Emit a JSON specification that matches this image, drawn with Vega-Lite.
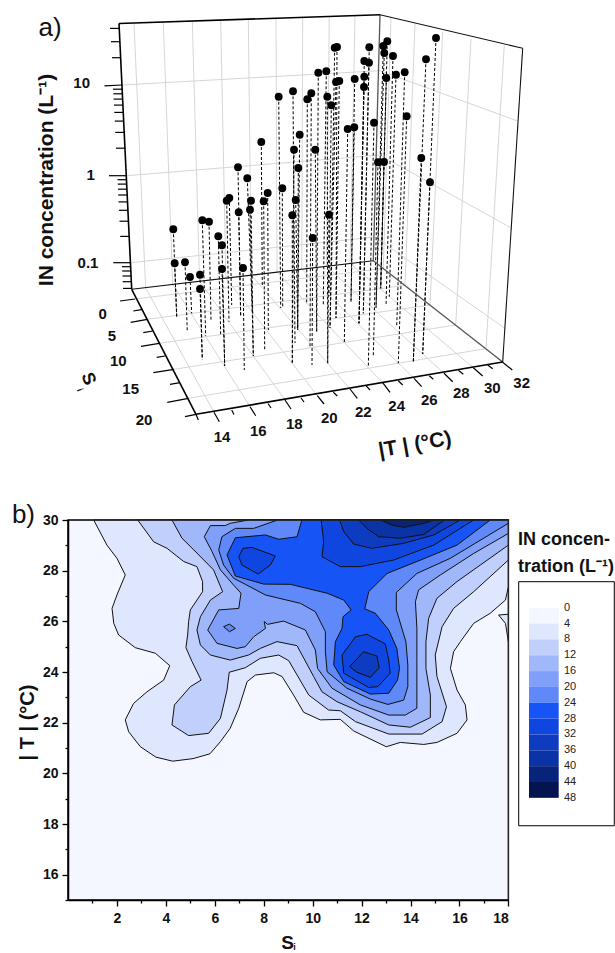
{"$schema":"https://vega.github.io/schema/vega-lite/v6.json","padding":0,"background":"white","bounds":"flush","spacing":0,
"config":{"font":"Liberation Sans","view":{"stroke":null},"concat":{"spacing":0}},
"datasets":{
"grid":[
{"x":134,"y":23,"x2":145.6,"y2":287.7},{"x":163.3,"y":22,"x2":172.7,"y2":284.4},{"x":192.3,"y":21,"x2":199.6,"y2":281.3},{"x":220.7,"y":20,"x2":225.9,"y2":278.1},{"x":248.3,"y":19,"x2":251.3,"y2":275.1},{"x":276,"y":18.2,"x2":277.1,"y2":272.1},{"x":302.7,"y":17.3,"x2":301.8,"y2":269.2},{"x":329.3,"y":16.4,"x2":326.4,"y2":266.2},{"x":355,"y":15.5,"x2":350.1,"y2":263.4},
{"x":121.7,"y":85,"x2":380,"y2":70.7},{"x":126.7,"y":175.7,"x2":380,"y2":155},{"x":130.4,"y":262.7,"x2":375,"y2":237},
{"x":380,"y":70.7,"x2":516.7,"y2":120.7},{"x":380,"y":155,"x2":510,"y2":227.3},{"x":375,"y":237,"x2":504,"y2":327.7},
{"x":391,"y":16.7,"x2":383.3,"y2":268.5},{"x":415,"y":24,"x2":405,"y2":285.4},{"x":442.7,"y":31.7,"x2":430,"y2":305},{"x":471,"y":39,"x2":455.7,"y2":325},{"x":504.3,"y":45,"x2":486,"y2":348.6},
{"x":145.6,"y":287.7,"x2":214,"y2":412.3},{"x":172.7,"y":284.4,"x2":250,"y2":406.7},{"x":199.6,"y":281.3,"x2":285,"y2":400},{"x":225.9,"y":278.1,"x2":317.3,"y2":395.7},{"x":251.3,"y":275.1,"x2":350,"y2":389},{"x":277.1,"y":272.1,"x2":382.7,"y2":382.7},{"x":301.8,"y":269.2,"x2":414,"y2":378.3},{"x":326.4,"y":266.2,"x2":444,"y2":373.3},{"x":350.1,"y":263.4,"x2":473.3,"y2":367.7},
{"x":135,"y":299,"x2":383.3,"y2":268.5},{"x":147.3,"y":319.3,"x2":405,"y2":285.4},{"x":159.3,"y":343.3,"x2":430,"y2":305},{"x":174,"y":369.3,"x2":455.7,"y2":325},{"x":188.3,"y":398.3,"x2":486,"y2":348.6}],
"thick":[
{"x":119,"y":23.5,"x2":131.7,"y2":289.3},{"x":119,"y":23.5,"x2":380,"y2":14.7},{"x":131.7,"y":289.3,"x2":196,"y2":414.3},{"x":196,"y":414.3,"x2":502.7,"y2":362}],
"thin":[
{"x":131.7,"y":289.3,"x2":373.3,"y2":260.7},{"x":380,"y":14.7,"x2":522.7,"y2":48.3},{"x":522.7,"y":48.3,"x2":502.7,"y2":362}],
"gray":[
{"x":380,"y":14.7,"x2":373.3,"y2":260.7},{"x":373.3,"y":260.7,"x2":502.7,"y2":362}],
"ticks":[
{"x":110,"y":28.4,"x2":119.2,"y2":28.4},{"x":111,"y":41.7,"x2":119.9,"y2":41.7},{"x":112,"y":57.7,"x2":120.6,"y2":57.7},{"x":104.5,"y":85.8,"x2":121.9,"y2":85},{"x":113,"y":89.2,"x2":122.1,"y2":89.2},{"x":113.3,"y":93.8,"x2":122.4,"y2":93.8},{"x":113.6,"y":99.1,"x2":122.6,"y2":99.1},{"x":114,"y":105.1,"x2":122.9,"y2":105.1},{"x":114.3,"y":112.4,"x2":123.3,"y2":112.4},{"x":114.8,"y":121.1,"x2":123.7,"y2":121.1},{"x":115.2,"y":132.4,"x2":124.2,"y2":132.4},{"x":116,"y":148.2,"x2":125,"y2":148.2},{"x":109,"y":175.7,"x2":126.3,"y2":175.7},{"x":117.5,"y":179.7,"x2":126.5,"y2":179.7},{"x":117.7,"y":184.1,"x2":126.7,"y2":184.1},{"x":118,"y":189.2,"x2":127,"y2":189.2},{"x":118.2,"y":195,"x2":127.2,"y2":195},{"x":118.5,"y":201.9,"x2":127.5,"y2":201.9},{"x":118.9,"y":210.3,"x2":127.9,"y2":210.3},{"x":119.5,"y":221.2,"x2":128.5,"y2":221.2},{"x":120.2,"y":236.4,"x2":129.2,"y2":236.4},{"x":113.3,"y":262.7,"x2":130.4,"y2":262.7},{"x":122,"y":266.7,"x2":130.6,"y2":266.7},{"x":122.2,"y":271,"x2":130.8,"y2":271},{"x":122.5,"y":276,"x2":131.1,"y2":276},{"x":122.7,"y":281.7,"x2":131.3,"y2":281.7},{"x":123,"y":288.4,"x2":131.7,"y2":288.4},
{"x":120,"y":301,"x2":135,"y2":299},{"x":133.3,"y":311,"x2":142.7,"y2":309.3},{"x":130.7,"y":322.3,"x2":147.3,"y2":319.3},{"x":143.3,"y":332.7,"x2":152.7,"y2":331},{"x":141,"y":346.3,"x2":159.3,"y2":343.3},{"x":156.7,"y":357.3,"x2":165,"y2":356},{"x":153.3,"y":372.7,"x2":174,"y2":369.3},{"x":170,"y":384.3,"x2":180,"y2":382.7},{"x":167.3,"y":402.3,"x2":188.3,"y2":398.3},{"x":185,"y":416.7,"x2":196,"y2":414.3},
{"x":196,"y":414.3,"x2":198.3,"y2":420},{"x":214,"y":412.3,"x2":219.3,"y2":421.7},{"x":231.7,"y":410,"x2":234,"y2":414.5},{"x":250,"y":406.7,"x2":255.7,"y2":415.7},{"x":268,"y":403.5,"x2":271,"y2":408},{"x":285,"y":400,"x2":291,"y2":409},{"x":301,"y":398,"x2":304,"y2":402},{"x":317.3,"y":395.7,"x2":324,"y2":404},{"x":333.3,"y":392.3,"x2":337.3,"y2":396},{"x":350,"y":389,"x2":357.3,"y2":398.3},{"x":366,"y":385.7,"x2":370,"y2":390},{"x":382.7,"y":382.7,"x2":390,"y2":392.3},{"x":398.3,"y":380.7,"x2":402.7,"y2":385},{"x":414,"y":378.3,"x2":421.7,"y2":386.7},{"x":429.3,"y":375.7,"x2":433.3,"y2":379.3},{"x":444,"y":373.3,"x2":452.7,"y2":381.7},{"x":458.3,"y":370.3,"x2":463.3,"y2":374.3},{"x":473.3,"y":367.7,"x2":482.7,"y2":376},{"x":487.7,"y":365,"x2":492.7,"y2":368.7},{"x":502.7,"y":362.3,"x2":512.3,"y2":370}],
"points":[
{"x":173.3,"y":229.3,"bx":176.7,"by":316.7},{"x":174.7,"y":263.3,"bx":176.7,"by":316.7},{"x":185,"y":262.3,"bx":187.3,"by":332.3},{"x":190,"y":277,"bx":191.7,"by":313.3},{"x":200,"y":274.7,"bx":202.3,"by":359.3},{"x":200,"y":289,"bx":202.3,"by":359.3},{"x":202.3,"y":220.3,"bx":205.7,"by":336},{"x":209,"y":221.7,"bx":211,"by":320},{"x":218.3,"y":236.3,"bx":220.7,"by":335},{"x":222,"y":245.3,"bx":224.7,"by":366},{"x":222,"y":269,"bx":224.7,"by":366},{"x":243,"y":268,"bx":244.3,"by":370},{"x":226.7,"y":200.7,"bx":229,"by":321.7},{"x":229.3,"y":198,"bx":231.7,"by":305},{"x":238.7,"y":212.3,"bx":240.7,"by":317},{"x":238,"y":167.3,"bx":240.7,"by":317},{"x":247.3,"y":178.3,"bx":252.3,"by":311},{"x":251,"y":200.7,"bx":253.3,"by":356},{"x":250,"y":209.7,"bx":253.3,"by":356},{"x":263.7,"y":201.3,"bx":264.7,"by":350},{"x":267.7,"y":193,"bx":268.3,"by":330},{"x":261.3,"y":142,"bx":262.3,"by":285},{"x":282.3,"y":188.3,"bx":282.7,"by":308},{"x":278.7,"y":96.7,"bx":280.7,"by":308},{"x":295.7,"y":200,"bx":297.7,"by":328},{"x":292.3,"y":215.3,"bx":292.3,"by":362.7},{"x":294,"y":149.7,"bx":292.3,"by":362.7},{"x":299.7,"y":134.7,"bx":297.7,"by":330},{"x":298.3,"y":168,"bx":297.7,"by":330},{"x":293,"y":91.3,"bx":295,"by":343},{"x":307.3,"y":99.3,"bx":306.7,"by":303},{"x":311.3,"y":93.3,"bx":310,"by":346.7},{"x":315.3,"y":149.7,"bx":316.7,"by":331.7},{"x":318.3,"y":72.7,"bx":316.7,"by":331.7},{"x":312.7,"y":238,"bx":312,"by":365},{"x":326.3,"y":71.3,"bx":323.3,"by":305},{"x":327.3,"y":96.7,"bx":327.7,"by":363.3},{"x":329,"y":214.7,"bx":327.7,"by":363.3},{"x":331.3,"y":105.3,"bx":329,"by":296},{"x":334.7,"y":47.7,"bx":330,"by":328},{"x":337,"y":47,"bx":336,"by":318},{"x":336,"y":82,"bx":330,"by":328},{"x":339.3,"y":81,"bx":336,"by":318},{"x":354.7,"y":79,"bx":351,"by":301.7},{"x":354.3,"y":127.3,"bx":351,"by":301.7},{"x":347.7,"y":129,"bx":344.3,"by":343.3},{"x":364.3,"y":61,"bx":359,"by":323.3},{"x":364.3,"y":76.7,"bx":359,"by":323.3},{"x":364,"y":87,"bx":359,"by":323.3},{"x":369,"y":62.7,"bx":363.3,"by":313.3},{"x":369.3,"y":47.3,"bx":363.3,"by":313.3},{"x":374,"y":122.7,"bx":368.3,"by":366.7},{"x":378,"y":162.3,"bx":373.3,"by":356.7},{"x":384,"y":162,"bx":380.7,"by":288.3},{"x":383.3,"y":46,"bx":376,"by":308},{"x":384.3,"y":53,"bx":376,"by":308},{"x":386.3,"y":78,"bx":380.7,"by":288.3},{"x":387.3,"y":41.3,"bx":380.7,"by":288.3},{"x":393,"y":56,"bx":386,"by":306},{"x":396,"y":74.7,"bx":389.3,"by":296.7},{"x":404.7,"y":72.3,"bx":396.7,"by":326.7},{"x":406.7,"y":116.3,"bx":398.3,"by":363.3},{"x":421.3,"y":158,"bx":413.3,"by":361.7},{"x":426,"y":59.3,"bx":413.3,"by":361.7},{"x":430,"y":182.3,"bx":422.7,"by":354},{"x":436,"y":38,"bx":422.7,"by":354}],
"tlabels":[
{"x":81.7,"y":83,"t":"10"},{"x":90.7,"y":174.5,"t":"1"},{"x":88,"y":263,"t":"0.1"},
{"x":102.7,"y":314,"t":"0"},{"x":112,"y":336,"t":"5"},{"x":118.3,"y":361,"t":"10"},{"x":130.7,"y":389,"t":"15"},{"x":144,"y":420,"t":"20"},
{"x":222,"y":436.7,"t":"14"},{"x":258.3,"y":431,"t":"16"},{"x":294.3,"y":424,"t":"18"},{"x":329.3,"y":417.7,"t":"20"},{"x":363.3,"y":411.7,"t":"22"},{"x":396.7,"y":405.7,"t":"24"},{"x":429.3,"y":400,"t":"26"},{"x":461.3,"y":393.3,"t":"28"},{"x":492.3,"y":388.3,"t":"30"},{"x":521.7,"y":382.7,"t":"32"}],
"contours":[
{"l":"00","S":0,"T":15},{"l":"00","S":18,"T":15},{"l":"00","S":18,"T":30},{"l":"00","S":0,"T":30},{"l":"00","S":0,"T":15},
{"l":"04","S":1.05,"T":30},{"l":"04","S":1.59,"T":29.01},{"l":"04","S":2,"T":28.49},{"l":"04","S":2.34,"T":27.83},{"l":"04","S":2,"T":27.04},{"l":"04","S":1.8,"T":26.51},{"l":"04","S":1.87,"T":25.92},{"l":"04","S":2.07,"T":25.46},{"l":"04","S":2.75,"T":24.96},{"l":"04","S":3.57,"T":24.74},{"l":"04","S":4.16,"T":24.25},{"l":"04","S":3.91,"T":23.68},{"l":"04","S":3.23,"T":23.22},{"l":"04","S":2.68,"T":22.76},{"l":"04","S":2.34,"T":22.11},{"l":"04","S":2.48,"T":21.64},{"l":"04","S":2.96,"T":21.05},{"l":"04","S":3.59,"T":20.64},{"l":"04","S":4.28,"T":20.48},{"l":"04","S":5.11,"T":20.58},{"l":"04","S":5.8,"T":20.77},{"l":"04","S":6.23,"T":21.25},{"l":"04","S":6.63,"T":21.78},{"l":"04","S":6.98,"T":22.57},{"l":"04","S":7.32,"T":23.62},{"l":"04","S":7.66,"T":23.88},{"l":"04","S":8.41,"T":23.97},{"l":"04","S":8.75,"T":23.82},{"l":"04","S":9.22,"T":23.09},{"l":"04","S":9.63,"T":22.41},{"l":"04","S":10.31,"T":22.11},{"l":"04","S":11.13,"T":22.13},{"l":"04","S":11.68,"T":21.67},{"l":"04","S":13.01,"T":21.05},{"l":"04","S":13.58,"T":21.22},{"l":"04","S":14.54,"T":21.14},{"l":"04","S":15.08,"T":21.22},{"l":"04","S":15.9,"T":21.58},{"l":"04","S":16.31,"T":22.11},{"l":"04","S":16.24,"T":22.7},{"l":"04","S":15.9,"T":23.29},{"l":"04","S":15.63,"T":24.14},{"l":"04","S":15.76,"T":24.8},{"l":"04","S":16.04,"T":25.2},{"l":"04","S":16.58,"T":25.92},{"l":"04","S":17.26,"T":26.32},{"l":"04","S":17.88,"T":26.84},{"l":"04","S":18,"T":27.37},{"l":"04","S":18,"T":30},{"l":"04","S":1.05,"T":30},
{"l":"04","p":"b","S":17.6,"T":26.25},{"l":"04","p":"b","S":18,"T":26.28},{"l":"04","p":"b","S":18,"T":25.2},{"l":"04","p":"b","S":17.88,"T":25.92},{"l":"04","p":"b","S":17.6,"T":26.25},
{"l":"08","S":2.85,"T":30},{"l":"08","S":3.5,"T":29.14},{"l":"08","S":4.05,"T":28.88},{"l":"08","S":4.73,"T":28.36},{"l":"08","S":5.27,"T":28.16},{"l":"08","S":5.5,"T":27.57},{"l":"08","S":5.5,"T":27.17},{"l":"08","S":5,"T":26.45},{"l":"08","S":4.93,"T":25.99},{"l":"08","S":4.89,"T":25.46},{"l":"08","S":4.82,"T":24.96},{"l":"08","S":5.07,"T":24.41},{"l":"08","S":5.44,"T":23.68},{"l":"08","S":5,"T":23.42},{"l":"08","S":4.35,"T":22.7},{"l":"08","S":4.25,"T":21.91},{"l":"08","S":4.93,"T":21.49},{"l":"08","S":5.75,"T":21.58},{"l":"08","S":6.23,"T":22.17},{"l":"08","S":6.5,"T":23.29},{"l":"08","S":6.59,"T":23.99},{"l":"08","S":7.25,"T":24.17},{"l":"08","S":7.86,"T":24.54},{"l":"08","S":8.61,"T":24.67},{"l":"08","S":9.02,"T":24.45},{"l":"08","S":9.84,"T":23.09},{"l":"08","S":10.65,"T":22.5},{"l":"08","S":11.13,"T":22.47},{"l":"08","S":11.75,"T":22.04},{"l":"08","S":13.11,"T":21.55},{"l":"08","S":14.47,"T":21.55},{"l":"08","S":15.29,"T":22.04},{"l":"08","S":15.47,"T":22.63},{"l":"08","S":15.08,"T":23.82},{"l":"08","S":15.01,"T":24.67},{"l":"08","S":15.29,"T":25.79},{"l":"08","S":15.76,"T":26.51},{"l":"08","S":16.58,"T":27.17},{"l":"08","S":18,"T":28.42},{"l":"08","S":18,"T":30},{"l":"08","S":2.85,"T":30},
{"l":"12","S":4.25,"T":30},{"l":"12","S":4.66,"T":29.28},{"l":"12","S":5.14,"T":28.82},{"l":"12","S":5.95,"T":28.03},{"l":"12","S":6.32,"T":27.17},{"l":"12","S":5.82,"T":26.84},{"l":"12","S":5.41,"T":26.18},{"l":"12","S":5.27,"T":25.66},{"l":"12","S":5.41,"T":25.07},{"l":"12","S":5.82,"T":24.67},{"l":"12","S":6.63,"T":24.47},{"l":"12","S":7.38,"T":24.67},{"l":"12","S":7.86,"T":24.93},{"l":"12","S":8.54,"T":25.2},{"l":"12","S":9.36,"T":25.04},{"l":"12","S":10.04,"T":23.82},{"l":"12","S":10.38,"T":23.22},{"l":"12","S":10.99,"T":22.83},{"l":"12","S":11.95,"T":22.43},{"l":"12","S":13.11,"T":21.91},{"l":"12","S":13.99,"T":21.82},{"l":"12","S":14.81,"T":22.2},{"l":"12","S":14.81,"T":23.09},{"l":"12","S":14.63,"T":24.14},{"l":"12","S":14.63,"T":25.2},{"l":"12","S":14.74,"T":26.12},{"l":"12","S":15.08,"T":26.91},{"l":"12","S":15.9,"T":27.57},{"l":"12","S":16.85,"T":28.22},{"l":"12","S":18,"T":29.01},{"l":"12","S":18,"T":30},{"l":"12","S":4.25,"T":30},
{"l":"16","S":7.38,"T":30},{"l":"16","S":6.63,"T":29.87},{"l":"16","S":6.43,"T":29.78},{"l":"16","S":5.82,"T":29.78},{"l":"16","S":5.57,"T":29.34},{"l":"16","S":5.89,"T":28.75},{"l":"16","S":6.23,"T":28.03},{"l":"16","S":6.77,"T":27.43},{"l":"16","S":7.07,"T":27.11},{"l":"16","S":6.98,"T":26.51},{"l":"16","S":6.16,"T":26.45},{"l":"16","S":5.71,"T":25.66},{"l":"16","S":6.09,"T":25.13},{"l":"16","S":6.91,"T":24.93},{"l":"16","S":7.25,"T":25},{"l":"16","S":7.59,"T":25.39},{"l":"16","S":8.07,"T":25.72},{"l":"16","S":8.02,"T":25.99},{"l":"16","S":8.16,"T":25.88},{"l":"16","S":8.81,"T":26.01},{"l":"16","S":9.7,"T":25.66},{"l":"16","S":10.11,"T":24.87},{"l":"16","S":10.2,"T":24.14},{"l":"16","S":10.79,"T":23.36},{"l":"16","S":11.95,"T":22.7},{"l":"16","S":13.11,"T":22.3},{"l":"16","S":13.79,"T":22.3},{"l":"16","S":14.26,"T":22.57},{"l":"16","S":14.26,"T":24.41},{"l":"16","S":14.26,"T":25.72},{"l":"16","S":14.2,"T":26.78},{"l":"16","S":14.33,"T":27.24},{"l":"16","S":15.22,"T":27.83},{"l":"16","S":16.58,"T":28.68},{"l":"16","S":18,"T":29.47},{"l":"16","S":18,"T":30},{"l":"16","S":7.38,"T":30},
{"l":"20","S":8.57,"T":30},{"l":"20","S":7.59,"T":29.67},{"l":"20","S":6.84,"T":29.67},{"l":"20","S":6.29,"T":29.34},{"l":"20","S":6.16,"T":28.82},{"l":"20","S":6.36,"T":28.22},{"l":"20","S":6.77,"T":27.7},{"l":"20","S":7.25,"T":27.46},{"l":"20","S":8.07,"T":27.04},{"l":"20","S":9.5,"T":26.71},{"l":"20","S":10.11,"T":26.38},{"l":"20","S":10.52,"T":25.59},{"l":"20","S":10.52,"T":24.8},{"l":"20","S":10.59,"T":24.01},{"l":"20","S":11.4,"T":23.36},{"l":"20","S":12.36,"T":22.93},{"l":"20","S":13.08,"T":22.72},{"l":"20","S":13.72,"T":22.89},{"l":"20","S":13.89,"T":23.42},{"l":"20","S":13.89,"T":24.28},{"l":"20","S":13.81,"T":25.2},{"l":"20","S":13.42,"T":26.45},{"l":"20","S":13.42,"T":27.14},{"l":"20","S":14.26,"T":27.89},{"l":"20","S":15.63,"T":28.49},{"l":"20","S":18,"T":29.87},{"l":"20","S":18,"T":30},{"l":"20","S":8.57,"T":30},
{"l":"20","p":"b","S":6.36,"T":25.79},{"l":"20","p":"b","S":6.6,"T":25.89},{"l":"20","p":"b","S":6.84,"T":25.72},{"l":"20","p":"b","S":6.6,"T":25.59},{"l":"20","p":"b","S":6.36,"T":25.79},
{"l":"24","S":9.56,"T":30},{"l":"24","S":9.36,"T":29.34},{"l":"24","S":8.61,"T":29.24},{"l":"24","S":8.07,"T":29.41},{"l":"24","S":6.84,"T":29.3},{"l":"24","S":6.5,"T":28.62},{"l":"24","S":6.84,"T":27.79},{"l":"24","S":8,"T":27.47},{"l":"24","S":9.09,"T":27.46},{"l":"24","S":10.59,"T":27.11},{"l":"24","S":11.27,"T":26.84},{"l":"24","S":11.57,"T":26.45},{"l":"24","S":11.24,"T":26.18},{"l":"24","S":11.2,"T":25.72},{"l":"24","S":10.93,"T":25.2},{"l":"24","S":10.86,"T":24.28},{"l":"24","S":11.27,"T":23.62},{"l":"24","S":12.36,"T":23.13},{"l":"24","S":13.11,"T":23.16},{"l":"24","S":13.47,"T":23.68},{"l":"24","S":13.55,"T":24.14},{"l":"24","S":13.44,"T":24.93},{"l":"24","S":13.11,"T":25.66},{"l":"24","S":12.56,"T":26.32},{"l":"24","S":12.13,"T":26.49},{"l":"24","S":12.29,"T":27.17},{"l":"24","S":13.04,"T":27.89},{"l":"24","S":14.26,"T":28.36},{"l":"24","S":15.9,"T":29.01},{"l":"24","S":17.26,"T":30},{"l":"24","S":9.56,"T":30},
{"l":"28","S":10.35,"T":30},{"l":"28","S":10.45,"T":29.14},{"l":"28","S":10.38,"T":28.55},{"l":"28","S":11.13,"T":28.16},{"l":"28","S":11.95,"T":28.16},{"l":"28","S":13.31,"T":28.42},{"l":"28","S":14.95,"T":29.01},{"l":"28","S":16.58,"T":30},{"l":"28","S":10.35,"T":30},
{"l":"28","p":"b","S":6.98,"T":28.55},{"l":"28","p":"b","S":7.15,"T":28.88},{"l":"28","p":"b","S":7.52,"T":28.92},{"l":"28","p":"b","S":8.47,"T":28.58},{"l":"28","p":"b","S":8.27,"T":28.22},{"l":"28","p":"b","S":7.77,"T":27.87},{"l":"28","p":"b","S":7.11,"T":28.22},{"l":"28","p":"b","S":6.98,"T":28.55},
{"l":"28","p":"c","S":11.75,"T":25.39},{"l":"28","p":"c","S":12.22,"T":25.49},{"l":"28","p":"c","S":12.97,"T":25.11},{"l":"28","p":"c","S":13.11,"T":24.47},{"l":"28","p":"c","S":13.17,"T":23.95},{"l":"28","p":"c","S":12.66,"T":23.42},{"l":"28","p":"c","S":12.29,"T":23.39},{"l":"28","p":"c","S":11.27,"T":23.95},{"l":"28","p":"c","S":11.2,"T":24.67},{"l":"28","p":"c","S":11.75,"T":25.39},
{"l":"32","S":11.1,"T":30},{"l":"32","S":11.27,"T":29.54},{"l":"32","S":11.68,"T":29.05},{"l":"32","S":12.42,"T":28.88},{"l":"32","S":13.72,"T":29.08},{"l":"32","S":14.95,"T":29.41},{"l":"32","S":16.03,"T":30},{"l":"32","S":11.1,"T":30},
{"l":"32","p":"b","S":12.08,"T":24.8},{"l":"32","p":"b","S":12.63,"T":24.63},{"l":"32","p":"b","S":12.72,"T":24.17},{"l":"32","p":"b","S":12.36,"T":23.79},{"l":"32","p":"b","S":11.81,"T":23.99},{"l":"32","p":"b","S":11.51,"T":24.21},{"l":"32","p":"b","S":12.08,"T":24.8},
{"l":"36","S":11.88,"T":30},{"l":"36","S":12.22,"T":29.67},{"l":"36","S":12.7,"T":29.34},{"l":"36","S":13.58,"T":29.28},{"l":"36","S":14.54,"T":29.43},{"l":"36","S":15.39,"T":30},{"l":"36","S":11.88,"T":30},
{"l":"40","S":12.77,"T":30},{"l":"40","S":13.24,"T":29.8},{"l":"40","S":13.72,"T":29.71},{"l":"40","S":14.54,"T":29.87},{"l":"40","S":14.95,"T":30},{"l":"40","S":12.77,"T":30}],
"legend":[{"l":"00","lo":0,"hi":4},{"l":"04","lo":4,"hi":8},{"l":"08","lo":8,"hi":12},{"l":"12","lo":12,"hi":16},{"l":"16","lo":16,"hi":20},{"l":"20","lo":20,"hi":24},{"l":"24","lo":24,"hi":28},{"l":"28","lo":28,"hi":32},{"l":"32","lo":32,"hi":36},{"l":"36","lo":36,"hi":40},{"l":"40","lo":40,"hi":44},{"l":"44","lo":44,"hi":48}],
"leglabels":[{"lo":0},{"lo":4},{"lo":8},{"lo":12},{"lo":16},{"lo":20},{"lo":24},{"lo":28},{"lo":32},{"lo":36},{"lo":40},{"lo":44},{"lo":48}]
},
"vconcat":[
{"width":615,"height":520,
"encoding":{"x":{"field":"x","type":"quantitative","scale":{"domain":[0,615],"nice":false,"zero":false},"axis":null},"y":{"field":"y","type":"quantitative","scale":{"domain":[520,0],"nice":false,"zero":false},"axis":null}},
"layer":[
{"data":{"name":"grid"},"mark":{"type":"rule","stroke":"#d6d6d6","strokeWidth":1},"encoding":{"x2":{"field":"x2"},"y2":{"field":"y2"}}},
{"data":{"name":"points"},"mark":{"type":"rule","stroke":"black","strokeWidth":1,"strokeDash":[3,2]},"encoding":{"x2":{"field":"bx"},"y2":{"field":"by"}}},
{"data":{"name":"gray"},"mark":{"type":"rule","stroke":"#555555","strokeWidth":1.3},"encoding":{"x2":{"field":"x2"},"y2":{"field":"y2"}}},
{"data":{"name":"thin"},"mark":{"type":"rule","stroke":"#111111","strokeWidth":1.1},"encoding":{"x2":{"field":"x2"},"y2":{"field":"y2"}}},
{"data":{"name":"thick"},"mark":{"type":"rule","stroke":"black","strokeWidth":1.6},"encoding":{"x2":{"field":"x2"},"y2":{"field":"y2"}}},
{"data":{"name":"ticks"},"mark":{"type":"rule","stroke":"black","strokeWidth":1.2},"encoding":{"x2":{"field":"x2"},"y2":{"field":"y2"}}},
{"data":{"name":"points"},"mark":{"type":"circle","size":62,"color":"black","opacity":1}},
{"data":{"name":"tlabels"},"mark":{"type":"text","fontWeight":"bold","fontSize":15,"align":"center","baseline":"middle","color":"#111111"},"encoding":{"text":{"field":"t"}}},
{"data":{"values":[{"x":53,"y":180,"t":"IN concentration (L⁻¹)"}]},"mark":{"type":"text","fontWeight":"bold","fontSize":21,"angle":270,"align":"center","baseline":"alphabetic","color":"#111111"},"encoding":{"text":{"field":"t"}}},
{"data":{"values":[{"x":415,"y":445,"t":"|T | (°C)"}]},"mark":{"type":"text","fontWeight":"bold","fontSize":21,"angle":350,"align":"center","baseline":"middle","color":"#111111"},"encoding":{"text":{"field":"t"}}},
{"data":{"values":[{"x":88,"y":379,"t":"S"}]},"mark":{"type":"text","fontWeight":"bold","fontSize":18,"angle":70,"align":"center","baseline":"middle","color":"#111111"},"encoding":{"text":{"field":"t"}}},
{"data":{"values":[{"x":80,"y":390,"t":"i"}]},"mark":{"type":"text","fontWeight":"bold","fontSize":9,"angle":70,"align":"center","baseline":"middle","color":"#111111"},"encoding":{"text":{"field":"t"}}},
{"data":{"values":[{"x":50,"y":28,"t":"a)"}]},"mark":{"type":"text","fontSize":26,"align":"center","baseline":"middle","color":"#111111"},"encoding":{"text":{"field":"t"}}}
]},
{"hconcat":[
{"width":67.6,"height":380,"data":{"values":[{"a":1}]},"mark":{"type":"point","opacity":0},"encoding":{}},
{"width":440.4,"height":380,
"encoding":{"x":{"field":"S","type":"quantitative","scale":{"domain":[0,18],"nice":false,"zero":false},"axis":{"values":[1,2,3,4,5,6,7,8,9,10,11,12,13,14,15,16,17,18],"labelExpr":"datum.value % 2 == 0 ? datum.label : ''","tickSize":{"condition":{"test":"datum.value % 2 == 0","value":6},"value":3},"grid":false,"domainColor":"black","domainWidth":1.5,"tickColor":"black","tickWidth":1.3,"labelFontSize":14,"labelFontWeight":"bold","labelColor":"#111111","labelPadding":5,"labelOverlap":false,"title":"S","titleFontSize":19,"titleFontWeight":"bold","titleColor":"#111111","titleX":219,"titleY":42,"titleBaseline":"middle","zindex":1}},
"y":{"field":"T","type":"quantitative","scale":{"domain":[15,30],"nice":false,"zero":false},"axis":{"values":[15,16,17,18,19,20,21,22,23,24,25,26,27,28,29,30],"labelExpr":"datum.value % 2 == 0 ? datum.label : ''","tickSize":{"condition":{"test":"datum.value % 2 == 0","value":6},"value":3},"grid":false,"domainColor":"black","domainWidth":1.5,"tickColor":"black","tickWidth":1.3,"labelFontSize":14,"labelFontWeight":"bold","labelColor":"#111111","labelPadding":4,"labelOverlap":false,"title":"| T | (°C)","titleFontSize":20,"titleFontWeight":"bold","titleColor":"#111111","titleX":-35,"titleY":202,"titleAngle":270,"titleBaseline":"alphabetic","zindex":1}}},
"layer":[
{"data":{"name":"contours"},"transform":[{"window":[{"op":"row_number","as":"i"}]}],"mark":{"type":"line","fill":"#888888","stroke":"#111111","strokeWidth":1,"strokeJoin":"miter"},"encoding":{"order":{"field":"i","type":"quantitative"},"fill":{"field":"l","type":"nominal","legend":null,"scale":{"domain":["00","04","08","12","16","20","24","28","32","36","40","44"],"range":["#f4f7ff","#dfe7fe","#c0cffc","#a0b8fa","#7f9ff9","#5f88f8","#1654f5","#0f46e0","#0d3cc0","#0a33a5","#07247a","#031450"]}},"detail":{"field":"p"}}},
{"data":{"values":[{"S":0,"S2":18,"T":15,"T2":30}]},"mark":{"type":"rect","fillOpacity":0,"stroke":"#222222","strokeWidth":1.5},"encoding":{"x2":{"field":"S2"},"y2":{"field":"T2"}}},
{"data":{"values":[{"S":9.26,"T":13.15,"t":"i"}]},"mark":{"type":"text","fontWeight":"bold","fontSize":9,"align":"center","baseline":"middle","color":"#111111"},"encoding":{"text":{"field":"t"}}},
{"data":{"values":[{"S":-1.82,"T":30.2,"t":"b)"}]},"mark":{"type":"text","fontSize":26,"align":"center","baseline":"middle","color":"#111111"},"encoding":{"text":{"field":"t"}}}
]},
{"width":107,"height":380,
"layer":[
{"data":{"values":[{"x":517.7,"x2":613.3,"lo":-6.57,"hi":55.05}]},"mark":{"type":"rect","fillOpacity":0,"stroke":"black","strokeWidth":1},"encoding":{"x":{"field":"x","type":"quantitative","scale":{"domain":[508,615],"nice":false,"zero":false},"axis":null},"x2":{"field":"x2"},"y":{"field":"lo","type":"quantitative","scale":{"domain":[73.8,-22.15],"nice":false,"zero":false},"axis":null},"y2":{"field":"hi"}}},
{"data":{"name":"legend"},"mark":{"type":"rect"},"encoding":{"x":{"datum":528,"type":"quantitative"},"x2":{"datum":557.7},"y":{"field":"lo","type":"quantitative"},"y2":{"field":"hi"},"fill":{"field":"l","type":"nominal","legend":null,"scale":{"domain":["00","04","08","12","16","20","24","28","32","36","40","44"],"range":["#f4f7ff","#dfe7fe","#c0cffc","#a0b8fa","#7f9ff9","#5f88f8","#1654f5","#0f46e0","#0d3cc0","#0a33a5","#07247a","#031450"]}}}},
{"data":{"name":"leglabels"},"mark":{"type":"text","fontSize":11,"align":"left","baseline":"middle","color":"#222222"},"encoding":{"x":{"datum":563,"type":"quantitative"},"y":{"field":"lo","type":"quantitative"},"text":{"field":"lo","type":"quantitative"}}},
{"data":{"values":[{"lo":-17.1,"t":"IN concen-"},{"lo":-10.35,"t":"tration (L⁻¹)"}]},"mark":{"type":"text","fontSize":18,"fontWeight":"bold","align":"left","baseline":"middle","color":"#111111"},"encoding":{"x":{"datum":517,"type":"quantitative"},"y":{"field":"lo","type":"quantitative"},"text":{"field":"t"}}}
]}
],"spacing":0,"bounds":"flush"}
]}
